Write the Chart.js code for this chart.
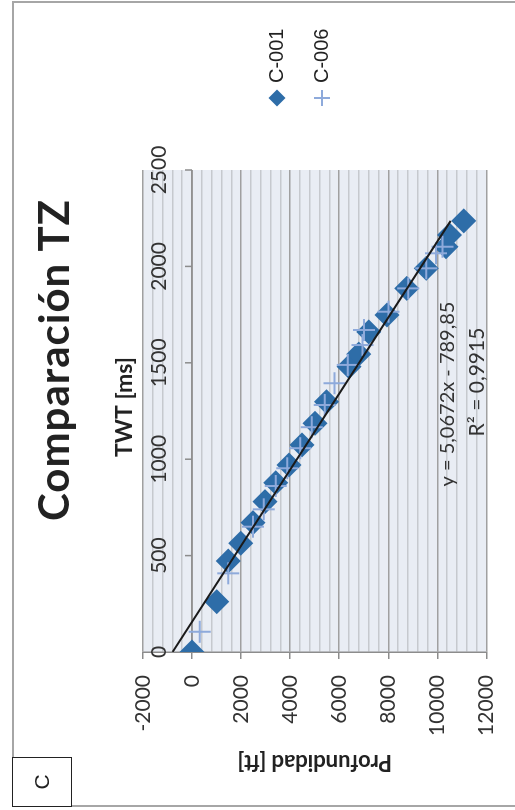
<!DOCTYPE html>
<html>
<head>
<meta charset="utf-8">
<script src="https://cdn.jsdelivr.net/npm/chart.js@4.4.1/dist/chart.umd.min.js"></script>
<style>
  html, body { margin: 0; padding: 0; background: #fff; width: 515px; height: 810px; overflow: hidden; }
  /* the chart is laid out landscape and turned a quarter turn */
  #frame { position: absolute; left: 0; top: 0; width: 810px; height: 515px;
           transform-origin: 0 0; transform: translateY(810px) rotate(-90deg); }
  #frame canvas { position: absolute; left: 0; top: 0; }
  #border { position: absolute; left: 3px; top: 12px; width: 806px; height: 520px;
            border: 2px solid #a6a6a6; box-sizing: border-box; }
  #tag { position: absolute; left: 3px; top: 12px; width: 50px; height: 60px;
         border: 1.5px solid #222; box-sizing: border-box; background: #fff;
         font: 21px 'Liberation Sans', Arial, sans-serif; color: #222;
         display: flex; align-items: center; justify-content: center; }
</style>
</head>
<body>
<div id="frame">
  <div id="border"></div>
  <canvas id="tz" width="810" height="515"></canvas>
  <div id="tag">C</div>
</div>
<script>
// TWT [ms] / profundidad [ft] por pozo
const twtC001 = [0, 261, 472, 564, 671, 780, 878, 970, 1074, 1186, 1298, 1480, 1545, 1660, 1748, 1886, 1990, 2102, 2163, 2236];
const profC001 = [0, 1010, 1480, 1990, 2480, 2970, 3410, 3950, 4480, 5010, 5480, 6400, 6800, 7200, 7950, 8750, 9550, 10350, 10500, 11080];
const twtC006 = [105, 408, 650, 740, 861, 953, 1057, 1166, 1281, 1394, 1489, 1592, 1670, 1765, 1886, 1990, 2068, 2102];
const profC006 = [310, 1480, 2480, 2920, 3410, 3880, 4410, 4880, 5410, 5810, 6350, 6950, 7010, 8010, 8810, 9550, 9950, 10210];

const twtTicks = [0, 500, 1000, 1500, 2000, 2500];
const profTicks = [-2000, 0, 2000, 4000, 6000, 8000, 10000, 12000];

// tendencia lineal (C-001)
const slope = 5.0672;
const intercept = -789.85;
const r2 = 0.9915;

const toPoints = (xs, ys) => xs.map((x, i) => ({x: x, y: ys[i]}));
const fmt = v => String(v).replace('.', ',');
const twtMax = Math.max(...twtC001);

const BLUE = '#2e6da8';
const LIGHT = '#8eaadb';

const decor = {
  id: 'decor',
  beforeDraw(chart) {
    const {ctx, chartArea: a} = chart;
    ctx.save();
    ctx.fillStyle = '#e9edf4';
    ctx.fillRect(a.left, a.top, a.right - a.left, a.bottom - a.top);
    ctx.restore();
  },
  beforeDatasetsDraw(chart) {
    // TWT axis crosses at profundidad = 0
    const {ctx, chartArea: a, scales: {x, y}} = chart;
    const y0 = y.getPixelForValue(0);
    ctx.save();
    ctx.strokeStyle = '#8c8c8c';
    ctx.lineWidth = 1.5;
    ctx.beginPath();
    ctx.moveTo(a.left, y0);
    ctx.lineTo(a.right, y0);
    twtTicks.forEach(t => {
      const px = x.getPixelForValue(t);
      ctx.moveTo(px, y0);
      ctx.lineTo(px, y0 - 7);
    });
    ctx.stroke();
    ctx.restore();
  },
  afterDraw(chart) {
    const {ctx, chartArea: a, scales: {x, y}} = chart;
    const y0 = y.getPixelForValue(0);
    ctx.save();
    ctx.fillStyle = '#333';
    ctx.textAlign = 'center';
    ctx.textBaseline = 'alphabetic';
    ctx.font = '21px Lato';
    twtTicks.forEach(t => ctx.fillText(String(t), x.getPixelForValue(t), y0 - 26));

    ctx.font = 'bold 23px Lato';
    ctx.fillStyle = '#222';
    ctx.textBaseline = 'middle';
    ctx.fillText('TWT [ms]', (a.left + a.right) / 2 + 4, a.top - 18);

    ctx.font = 'bold 42px Lato';
    ctx.letterSpacing = '1px';
    ctx.fillText('Comparación TZ', 450, 55);
    ctx.letterSpacing = '0px';

    // ecuación de la tendencia
    ctx.font = '20px Lato';
    ctx.fillStyle = '#333';
    ctx.fillText('y = ' + fmt(slope) + 'x - ' + fmt(-intercept), 416, 448);
    ctx.font = '21px Lato';
    ctx.fillText('R² = ' + fmt(r2), 428, 477);

    // leyenda
    ctx.textAlign = 'left';
    ctx.font = '20px "Liberation Sans"';
    ctx.fillStyle = '#222';
    ctx.fillText('C-001', 727, 277);
    ctx.fillText('C-006', 727, 322);
    ctx.fillStyle = BLUE;
    ctx.beginPath();
    ctx.moveTo(703.5, 277); ctx.lineTo(712, 268.5); ctx.lineTo(720.5, 277); ctx.lineTo(712, 285.5);
    ctx.closePath();
    ctx.fill();
    ctx.strokeStyle = LIGHT;
    ctx.lineWidth = 2;
    ctx.beginPath();
    ctx.moveTo(704, 322); ctx.lineTo(720, 322);
    ctx.moveTo(712, 314); ctx.lineTo(712, 330);
    ctx.stroke();
    ctx.restore();
  }
};

new Chart(document.getElementById('tz'), {
  type: 'scatter',
  data: {
    datasets: [
      {
        label: 'C-001',
        data: toPoints(twtC001, profC001),
        pointStyle: 'rectRot',
        pointRadius: 12.5,
        backgroundColor: BLUE,
        borderColor: BLUE,
        borderWidth: 0,
        order: 3
      },
      {
        label: 'C-006',
        data: toPoints(twtC006, profC006),
        pointStyle: 'cross',
        pointRadius: 11,
        borderColor: LIGHT,
        backgroundColor: LIGHT,
        borderWidth: 2,
        order: 2
      },
      {
        label: 'Lineal (C-001)',
        data: [{x: 0, y: intercept}, {x: twtMax, y: slope * twtMax + intercept}],
        showLine: true,
        pointRadius: 0,
        borderColor: '#1a1a1a',
        borderWidth: 2,
        order: 1
      }
    ]
  },
  options: {
    responsive: false,
    animation: false,
    layout: { padding: { left: 0, top: 143, right: 170, bottom: 22 } },
    plugins: { legend: { display: false }, tooltip: { enabled: false } },
    scales: {
      x: { type: 'linear', display: false, min: 0, max: 2500 },
      y: {
        type: 'linear',
        reverse: true,
        min: -2000,
        max: 12000,
        afterFit(scale) { scale.width = 158; },
        ticks: {
          stepSize: 400,
          autoSkip: false,
          padding: 16,
          color: '#333',
          font: { family: 'Lato', size: 21 },
          callback: v => profTicks.includes(Math.round(v)) ? String(Math.round(v)) : ''
        },
        grid: {
          color: c => profTicks.includes(Math.round(c.tick.value)) ? '#a0a0a0' : '#c6c9ce',
          tickColor: c => profTicks.includes(Math.round(c.tick.value)) ? '#8c8c8c' : 'rgba(0,0,0,0)',
          lineWidth: 1.5,
          tickLength: 7
        },
        border: { display: true, color: '#8c8c8c', width: 1.5 },
        title: {
          display: true,
          text: 'Profundidad [ft]',
          color: '#222',
          font: { family: 'Lato', size: 22, weight: 'bold' },
          padding: { top: 35, bottom: 0 }
        }
      }
    }
  },
  plugins: [decor]
});
</script>
</body>
</html>
